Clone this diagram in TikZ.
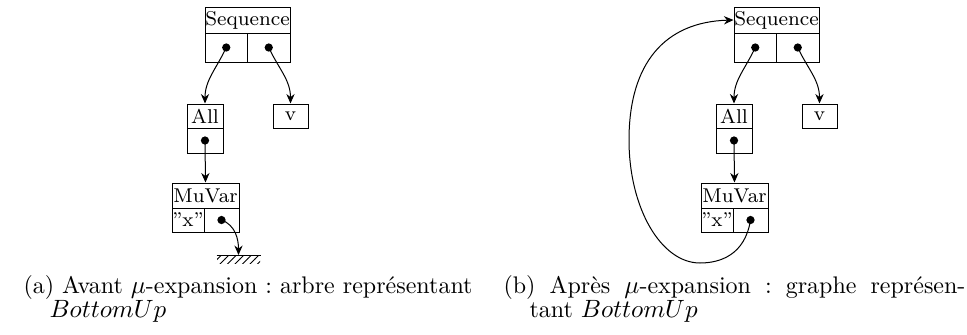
\documentclass[tikz,border=0pt]{standalone}
\usetikzlibrary{arrows.meta,patterns}
\frenchspacing
\begin{document}
\begin{tikzpicture}[x=0.4pt,y=-0.4pt,
  cell/.style={draw,inner sep=0pt,font=\footnotesize},
  dotm/.style={circle,fill,inner sep=0pt,minimum size=3.3pt},
  ptr/.style={-{Stealth[length=3.8pt,width=3.3pt]}},
  gnd/.style={inner sep=0pt,minimum width=17.2pt,minimum height=3.2pt,pattern=north east lines,anchor=north},
  captext/.style={anchor=base west,inner sep=0pt,font=\fontsize{9.6}{11}\selectfont}]
\useasboundingbox (0,0) rectangle (967,334);
% ---------- (a) ----------
\node[cell,minimum width=34pt,minimum height=10.4pt] (seqa) at (247.5,20) {Sequence};
\node[cell,minimum width=17pt,minimum height=11.6pt] (seqaL) at (226.25,47.5) {};
\node[cell,minimum width=17pt,minimum height=11.6pt] (seqaR) at (268.75,47.5) {};
\node[cell,minimum width=14.4pt,minimum height=9.6pt] (alla) at (205,116) {All};
\node[cell,minimum width=14.4pt,minimum height=10pt] (allaC) at (205,140.5) {};
\node[cell,minimum width=14pt,minimum height=9.6pt] (va) at (290.5,116) {v};
\node[cell,minimum width=26.8pt,minimum height=10pt] (mua) at (205.5,195.5) {MuVar};
\node[cell,minimum width=12.8pt,minimum height=9.6pt] (muaL) at (188,220) {"x"};
\node[cell,minimum width=14pt,minimum height=9.6pt] (muaR) at (221.5,220) {};
\node[dotm] (da1) at (seqaL.center) {};
\node[dotm] (da2) at (seqaR.center) {};
\node[dotm] (da3) at (allaC.center) {};
\node[dotm] (da4) at (muaR.center) {};
\node[gnd] (gnda) at (238.5,255) {};
\draw (gnda.north west) -- (gnda.north east);
\draw[ptr] (da1.center) to[out=-115,in=90] (alla.north);
\draw[ptr] (da2.center) to[out=-65,in=90] (va.north);
\draw[ptr] (da3.center) -- (mua.north);
\draw[ptr] (da4.center) to[out=-20,in=90] (gnda.north);
% ---------- (b) ----------
\node[cell,minimum width=34pt,minimum height=10.4pt] (seqb) at (776.5,20) {Sequence};
\node[cell,minimum width=17pt,minimum height=11.6pt] (seqbL) at (755.25,47.5) {};
\node[cell,minimum width=17pt,minimum height=11.6pt] (seqbR) at (797.75,47.5) {};
\node[cell,minimum width=14.4pt,minimum height=9.6pt] (allb) at (734,116) {All};
\node[cell,minimum width=14.4pt,minimum height=10pt] (allbC) at (734,140.5) {};
\node[cell,minimum width=14pt,minimum height=9.6pt] (vb) at (819.5,116) {v};
\node[cell,minimum width=26.8pt,minimum height=10pt] (mub) at (734.5,195.5) {MuVar};
\node[cell,minimum width=12.8pt,minimum height=9.6pt] (mubL) at (717,220) {"x"};
\node[cell,minimum width=14pt,minimum height=9.6pt] (mubR) at (750.5,220) {};
\node[dotm] (db1) at (seqbL.center) {};
\node[dotm] (db2) at (seqbR.center) {};
\node[dotm] (db3) at (allbC.center) {};
\node[dotm] (db4) at (mubR.center) {};
\coordinate (loopbot) at (700,263);
\coordinate (loopleft) at (629,140);
\draw[ptr] (db1.center) to[out=-115,in=90] (allb.north);
\draw[ptr] (db2.center) to[out=-65,in=90] (vb.north);
\draw[ptr] (db3.center) -- (mub.north);
\draw[ptr] (db4.center) .. controls (745,255) and (720,263) .. (loopbot)
  .. controls (661,263) and (629,208) .. (loopleft)
  .. controls (629,63) and (665,22) .. (seqb.west);
% ---------- captions ----------
\node[captext] (capa1) at (23,293) {\hbox to 179.6pt{(a) Avant $\mu$-expansion : arbre représentant}};
\node[captext] (capa2) at (49,317) {$BottomUp$};
\node[captext] (capb1) at (503,293) {\hbox to 184.8pt{(b) Après $\mu$-expansion : graphe représen-}};
\node[captext] (capb2) at (529,317) {tant $BottomUp$};
\end{tikzpicture}
\end{document}
